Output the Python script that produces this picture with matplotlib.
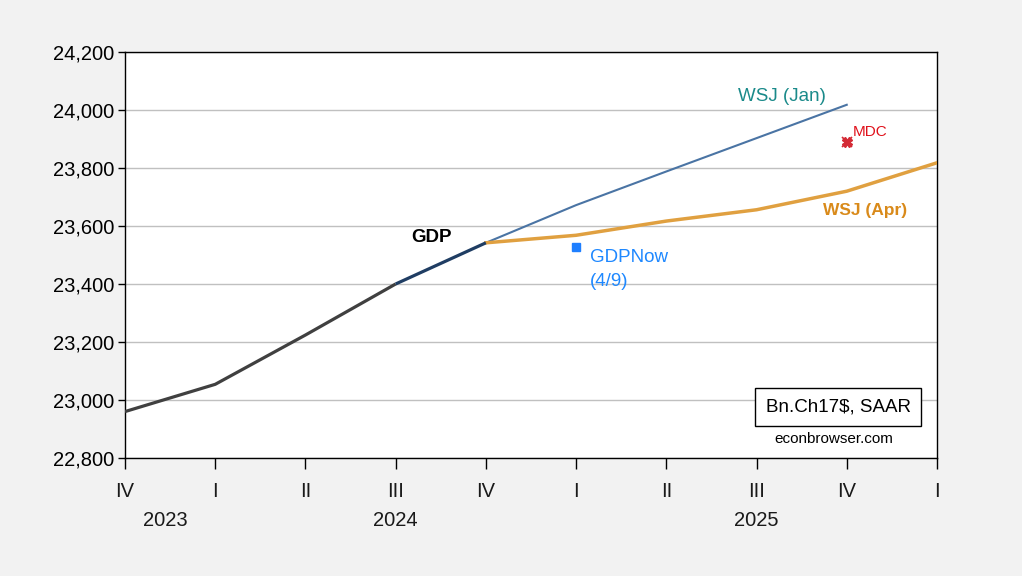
import numpy as np
import matplotlib.pyplot as plt

plt.rcParams['font.family'] = ['Liberation Sans', 'DejaVu Sans']

# quarters from 2023Q4 to 2026Q1
quarter_labels = ["IV", "I", "II", "III", "IV", "I", "II", "III", "IV", "I"]
year_labels = ["2023", "2024", "2025"]
year_pos = [0.45, 3.0, 7.0]

# actual GDP (bn. ch.2017$, SAAR)
gdp_x = [0, 1, 2, 3]
gdp = [22960, 23054, 23224, 23400]
gdp_last_x = [3, 4]
gdp_last = [23400, 23542]

# WSJ January survey
wsj_jan_x = [4, 5, 6, 7, 8]
wsj_jan = [23542, 23672, 23788, 23903, 24018]

# WSJ April survey
wsj_apr_x = [4, 5, 6, 7, 8, 9]
wsj_apr = [23542, 23568, 23617, 23656, 23720, 23818]

# GDPNow (4/9) and MDC point estimates
nowcast_x = [5]
nowcast = [23528]
mdc_x = [8]
mdc = [23890]

yticks = np.arange(22800, 24201, 200)

fig = plt.figure(figsize=(10.22, 5.76), dpi=100, facecolor="#f2f2f2")
ax = fig.add_axes([0.1223, 0.2049, 0.7945, 0.7048])
ax.set_facecolor("white")

ax.plot(gdp_x, gdp, color="#404040", lw=2.3, solid_capstyle="butt", zorder=3)
ax.plot(gdp_last_x, gdp_last, color="#1f3d63", lw=2.3, solid_capstyle="butt", zorder=4)
ax.plot(wsj_jan_x, wsj_jan, color="#4a74a4", lw=1.5, zorder=3)
ax.plot(wsj_apr_x, wsj_apr, color="#e0a040", lw=2.5, zorder=3)
ax.plot(nowcast_x, nowcast, ls="none", marker="s", ms=6, color="#1e7fff", zorder=5)
ax.plot(mdc_x, mdc, ls="none", marker="X", ms=7, color="#d42a35", zorder=5)
ax.plot(mdc_x, mdc, ls="none", marker="x", ms=7, mew=1.2, color="#d42a35", zorder=5)

ax.set_xlim(0, 9)
ax.set_ylim(22800, 24200)
ax.set_yticks(yticks)
ax.set_yticklabels([f"{v:,}" for v in yticks], fontsize=14.5)
ax.set_xticks(range(len(quarter_labels)))
ax.set_xticklabels(quarter_labels, fontsize=14.5, color="#1a1a1a")
ax.tick_params(axis="x", direction="out", length=8, width=1, pad=9)
ax.tick_params(axis="y", direction="out", length=5, width=1, pad=3)
ax.grid(axis="y", color="#c0c0c0", lw=1)
ax.set_axisbelow(True)
for s in ax.spines.values():
    s.set_color("black")
    s.set_linewidth(1)

for lab, xp in zip(year_labels, year_pos):
    ax.text(xp, -0.153, lab, transform=ax.get_xaxis_transform(), ha="center",
            va="center", fontsize=14.5, color="#1a1a1a")

# annotations
ax.text(3.17, 23559, "GDP", fontsize=13.5, fontweight="bold", color="black", va="center")
ax.text(6.8, 24048, "WSJ (Jan)", fontsize=13.5, color="#1a8a8a", va="center")
ax.text(7.74, 23655, "WSJ (Apr)", fontsize=12.5, fontweight="bold", color="#d98a1a",
        va="center")
ax.text(8.07, 23924, "MDC", fontsize=11, color="#e0101a", va="center")
ax.text(5.155, 23493, "GDPNow", fontsize=13.5, color="#1e88ff", va="center")
ax.text(5.155, 23407, "(4/9)", fontsize=13.5, color="#1e88ff", va="center")

ax.text(7.905, 22976, "Bn.Ch17$, SAAR", fontsize=13.5, ha="center", va="center",
        bbox=dict(boxstyle="square,pad=0.55", fc="white", ec="black", lw=1))
ax.text(7.86, 22866, "econbrowser.com", fontsize=11, ha="center", va="center")

fig.savefig("out.png", dpi=100, facecolor=fig.get_facecolor())
